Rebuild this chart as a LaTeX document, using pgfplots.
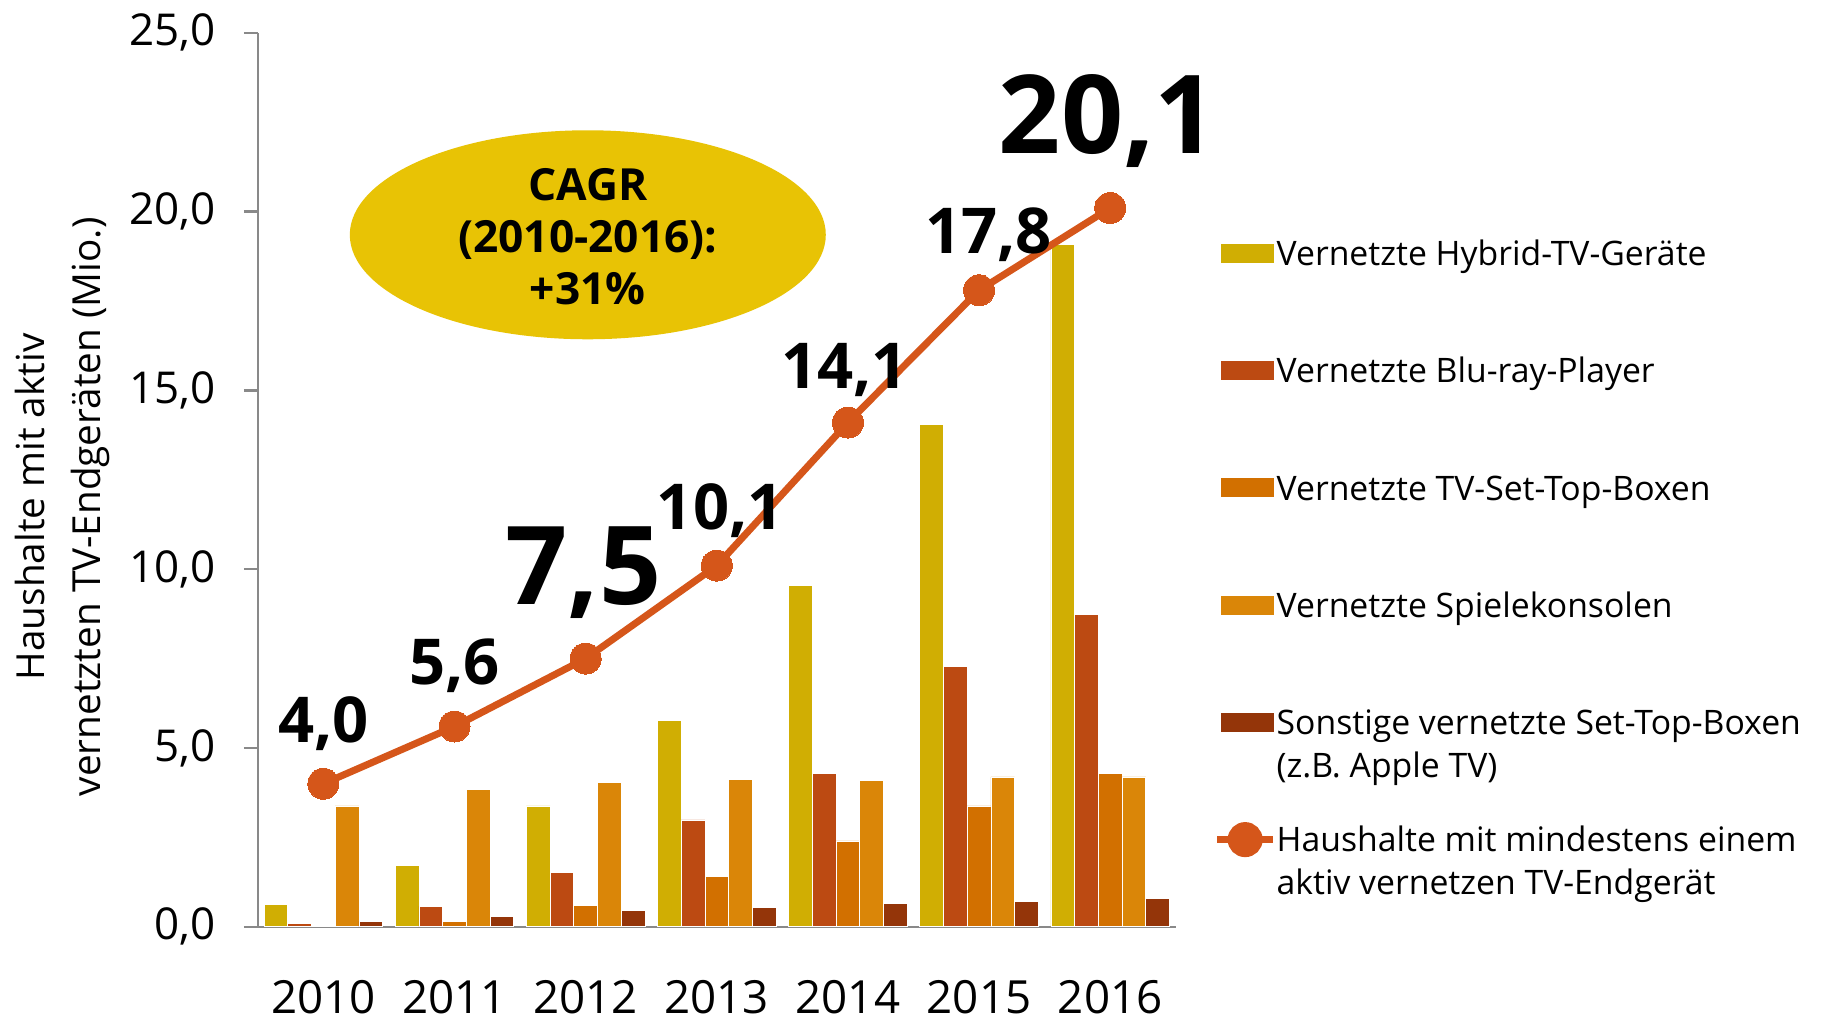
\documentclass[border=0pt]{standalone}
\usepackage{pgfplots}
\pgfplotsset{compat=1.18}
\usepackage{fontspec}
\setmainfont{Open Sans}
\definecolor{cHyb}{RGB}{208,174,3}
\definecolor{cBlu}{RGB}{188,74,18}
\definecolor{cSTB}{RGB}{210,112,0}
\definecolor{cSpi}{RGB}{218,134,8}
\definecolor{cSon}{RGB}{148,53,9}
\definecolor{cLine}{RGB}{213,86,26}
\definecolor{cEll}{RGB}{232,195,5}
\definecolor{cAxis}{RGB}{137,137,137}
\newcommand{\legtxt}[1]{\strut #1}
\newcommand{\legtwo}[2]{\smash{\vtop{\hbox{\strut #1}\hbox{\strut #2}}}\strut}
\begin{document}
\begin{tikzpicture}
\path[use as bounding box] (-25.78mm,-9.62mm) rectangle (156.32mm,92.68mm);
\fill[cEll] (33mm,69.2mm) ellipse (23.8mm and 10.45mm);
\node[align=center, font=\bfseries\fontsize{12.6}{14.7}\selectfont] at (33mm,69.0mm) {CAGR\\(2010-2016):\\+31\%};
\begin{axis}[
  at={(0,0)}, anchor=south west,
  scale only axis, width=91.8mm, height=89.4mm,
  xmin=-0.5, xmax=6.5, ymin=0, ymax=25,
  axis x line*=bottom, axis y line*=left,
  axis line style={cAxis, line width=0.7pt},
  tick style={cAxis, line width=0.7pt},
  tick align=outside,
  xtick={0,...,6},
  xticklabels={2010,2011,2012,2013,2014,2015,2016},
  x tick style={draw=none},
  extra x ticks={-0.5,0.5,1.5,2.5,3.5,4.5,5.5,6.5},
  extra x tick labels={},
  extra x tick style={tick style={cAxis, line width=0.7pt}, major tick length=1.5mm},
  ytick={0,5,10,15,20,25},
  major tick length=1.4mm,
  /pgf/number format/assume math mode=true,
  y tick label style={/pgf/number format/fixed, /pgf/number format/fixed zerofill, /pgf/number format/precision=1, /pgf/number format/use comma},
  yticklabel style={font=\fontsize{12.5}{15}\selectfont, xshift=-1.6mm},
  xticklabel style={font=\fontsize{13}{15}\selectfont, inner sep=0pt, yshift=-3.9mm},
  clip=false,
  legend style={at={(rel axis cs:1.0405,0.774)}, anchor=north west, draw=none, fill=none,
    inner sep=0pt, row sep=8.2mm, column sep=0mm,
    font=\fontsize{9.6}{12.2}\selectfont, nodes={inner sep=0pt}},
  legend cell align=left,
]
\addplot[ybar, bar width=2.37mm, bar shift=-4.74mm, fill=cHyb, draw=white, line width=0.2pt,
  legend image code/.code={\fill[cHyb] (0mm,-0.9mm) rectangle (5.2mm,0.9mm);}]
  coordinates {(0,0.62) (1,1.72) (2,3.38) (3,5.78) (4,9.55) (5,14.06) (6,19.09)};
\addlegendentry{\legtxt{Vernetzte Hybrid-TV-Geräte}}
\addplot[ybar, bar width=2.37mm, bar shift=-2.37mm, fill=cBlu, draw=white, line width=0.2pt,
  legend image code/.code={\fill[cBlu] (0mm,-0.9mm) rectangle (5.2mm,0.9mm);}]
  coordinates {(0,0.1) (1,0.58) (2,1.53) (3,2.99) (4,4.29) (5,7.27) (6,8.73)};
\addlegendentry{\legtxt{Vernetzte Blu-ray-Player}}
\addplot[ybar, bar width=2.37mm, bar shift=0mm, fill=cSTB, draw=white, line width=0.2pt,
  legend image code/.code={\fill[cSTB] (0mm,-0.9mm) rectangle (5.2mm,0.9mm);}]
  coordinates {(0,0) (1,0.15) (2,0.6) (3,1.4) (4,2.4) (5,3.38) (6,4.29)};
\addlegendentry{\legtxt{Vernetzte TV-Set-Top-Boxen}}
\addplot[ybar, bar width=2.37mm, bar shift=2.37mm, fill=cSpi, draw=white, line width=0.2pt,
  legend image code/.code={\fill[cSpi] (0mm,-0.9mm) rectangle (5.2mm,0.9mm);}]
  coordinates {(0,3.38) (1,3.83) (2,4.03) (3,4.12) (4,4.09) (5,4.19) (6,4.19)};
\addlegendentry{\legtxt{Vernetzte Spielekonsolen}}
\addplot[ybar, bar width=2.37mm, bar shift=4.74mm, fill=cSon, draw=white, line width=0.2pt,
  legend image code/.code={\fill[cSon] (0mm,-0.9mm) rectangle (5.2mm,0.9mm);}]
  coordinates {(0,0.15) (1,0.3) (2,0.45) (3,0.55) (4,0.65) (5,0.7) (6,0.8)};
\addlegendentry{\legtwo{Sonstige vernetzte Set-Top-Boxen}{(z.B. Apple TV)}}
\addplot[sharp plot, cLine, line width=2pt, mark=*, mark size=1.55mm, mark options={fill=cLine, draw=cLine, line width=0pt},
  legend image code/.code={\draw[cLine, line width=2pt] (-0.4mm,0mm) -- (5.2mm,0mm); \fill[cLine] (2.4mm,0mm) circle (1.4mm);}]
  coordinates {(0,4.0) (1,5.6) (2,7.5) (3,10.1) (4,14.1) (5,17.8) (6,20.1)};
\addlegendentry{\legtwo{Haushalte mit mindestens einem}{aktiv vernetzen TV-Endgerät}}
\begin{scope}[every node/.style={font=\bfseries\fontsize{18}{20}\selectfont}]
\node at (axis cs:0,4.0) [yshift=6.0mm] {4,0};
\node at (axis cs:1,5.6) [yshift=6.1mm] {5,6};
\node at (axis cs:3,10.1) [yshift=5.5mm, xshift=0.35mm] {10,1};
\node at (axis cs:4,14.1) [yshift=5.3mm, xshift=-0.35mm] {14,1};
\node at (axis cs:5,17.8) [yshift=5.6mm, xshift=0.93mm] {17,8};
\end{scope}
\begin{scope}[every node/.style={font=\bfseries\fontsize{31}{34}\selectfont}]
\node at (axis cs:2,7.5) [yshift=8.6mm, xshift=-0.23mm] {7,5};
\node at (axis cs:6,20.1) [yshift=8.7mm, xshift=-0.23mm] {20,1};
\end{scope}
\end{axis}
\node[rotate=90, align=center, font=\fontsize{11}{15.9}\selectfont] at (-19.55mm,42mm) {Haushalte mit aktiv\\vernetzten TV-Endgeräten (Mio.)};
\end{tikzpicture}
\end{document}
